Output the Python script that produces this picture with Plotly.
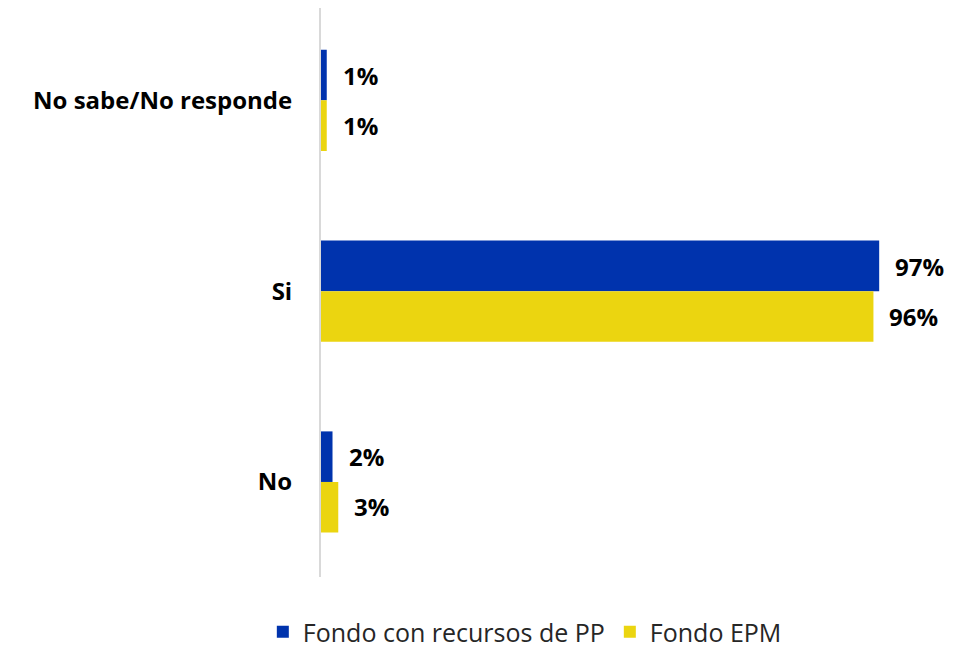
import plotly.graph_objects as go

categories = ["No sabe/No responde", "Si", "No"]
pp_values = [1, 97, 2]
epm_values = [1, 96, 3]
series_names = ["Fondo con recursos de PP", "Fondo EPM"]
colors = ["#0033ad", "#ebd510"]

FONT = "Open Sans"
W = 0.265
fig = go.Figure()
fig.add_trace(go.Bar(y=categories, x=pp_values, orientation="h", name=series_names[0],
                     marker=dict(color=colors[0], line=dict(width=0)), width=W, offset=-W))
fig.add_trace(go.Bar(y=categories, x=epm_values, orientation="h", name=series_names[1],
                     marker=dict(color=colors[1], line=dict(width=0)), width=W, offset=0))

for vals, ys in ((pp_values, 25), (epm_values, -25)):
    for c, v in zip(categories, vals):
        fig.add_annotation(x=v, y=c, text=f"<b>{v}%</b>", showarrow=False, xanchor="left",
                           xshift=14, yshift=ys, font=dict(size=24, color="#000000", family=FONT))

fig.update_layout(
    width=971, height=647,
    margin=dict(l=313, r=25, t=0, b=0),
    barmode="overlay",
    plot_bgcolor="white", paper_bgcolor="white",
    font=dict(family=FONT, size=24, color="#000000"),
    xaxis=dict(range=[0, 110], visible=False, showgrid=False, zeroline=False),
    yaxis=dict(range=[2.5, -0.484], showline=True, linecolor="#d9d9d9", linewidth=2,
               showgrid=False, ticks="", ticklabelstandoff=22, automargin=False,
               domain=[75 / 647, 1],
               tickfont=dict(size=24, family=FONT, color="#000000"),
               tickmode="array", tickvals=categories,
               ticktext=[f"<b>{c}</b>" for c in categories]),
    legend=dict(orientation="h", x=0.322, xanchor="center", y=20 / 647, yanchor="middle",
                font=dict(size=25, family=FONT, color="#262626"), itemwidth=30,
                traceorder="normal"),
    showlegend=True,
)
fig.write_html("out.html")
